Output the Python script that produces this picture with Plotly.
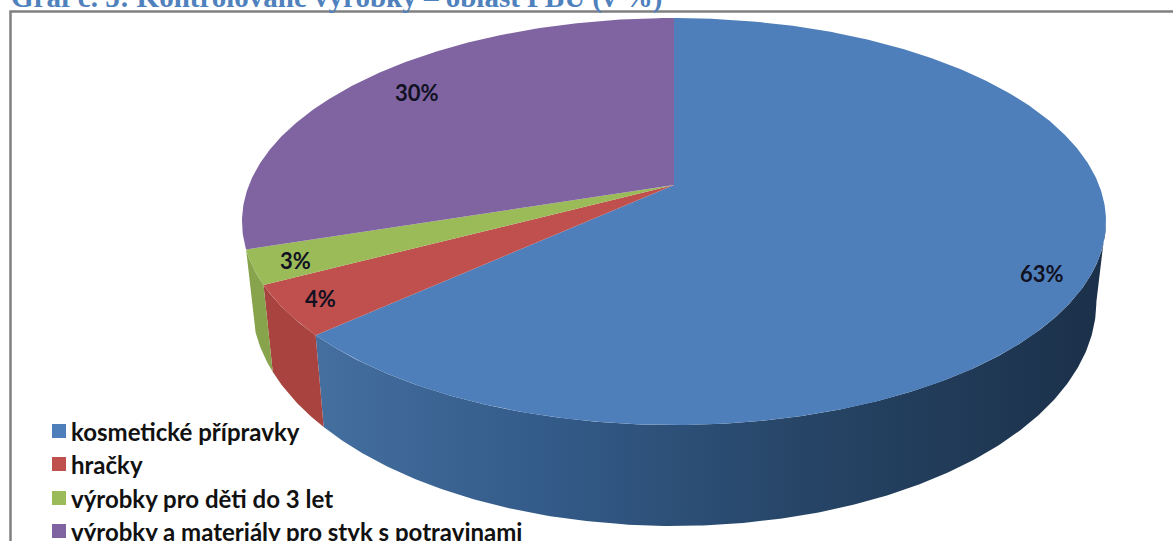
import numpy as np
import plotly.graph_objects as go

categories = ["kosmetické přípravky", "hračky", "výrobky pro děti do 3 let",
              "výrobky a materiály pro styk s potravinami"]
values = [63.3, 4.0, 2.7, 30.0]
top_colors = ["#4f7fba", "#c0504d", "#9bbb59", "#8064a2"]
side_colors = ["#3f6b9b", "#a8433f", "#87a34c", "#6c5489"]
title_text = "Graf č. 5: Kontrolované výrobky – oblast PBU (v %)"
value_labels = [f"{v:.0f}%" for v in values]

# Perspective projection of the pie disc (axes are in page pixels)
CX = 674
C = 0.1794
TOP = dict(A=425.0, a=-163.77, b=185.0)
BOT = dict(A=415.5, a=-169.8, b=261.8)


def project(theta_deg, plane, r=1.0):
    t = np.radians(theta_deg)
    X, Y = r * np.sin(t), r * np.cos(t)
    d = 1 + C * Y
    return CX + plane["A"] * X / d, (plane["a"] * Y + plane["b"]) / d


def arc(t0, t1, plane):
    n = max(int(abs(t1 - t0) * 2), 2)
    return project(np.linspace(t0, t1, n), plane)


cum = np.concatenate([[0], np.cumsum(values)]) * 360 / sum(values)
right_extreme = np.degrees(np.arccos(-C))

fig = go.Figure()

# side walls
for i in range(3):
    t0 = cum[i] if i else right_extreme
    t1 = cum[i + 1]
    ux, uy = arc(t0, t1, TOP)
    lx, ly = arc(t1, t0, BOT)
    trace = dict(x=np.r_[ux, lx], y=np.r_[uy, ly], mode="lines", line=dict(width=0),
                 fill="toself", hoverinfo="skip", showlegend=False)
    if i == 0:
        trace["fillgradient"] = dict(
            type="horizontal",
            colorscale=[[0, "#446f9f"], [0.3, "#335a88"], [0.6, "#274668"], [1, "#1b3049"]],
        )
    else:
        trace["fillcolor"] = side_colors[i]
    fig.add_trace(go.Scatter(**trace))

# top faces
for i, cat in enumerate(categories):
    ax, ay = arc(cum[i], cum[i + 1], TOP)
    px, py = project(0, TOP, 0.0)
    fig.add_trace(go.Scatter(x=np.r_[px, ax, px], y=np.r_[py, ay, py], mode="lines",
                             line=dict(width=0), fill="toself", fillcolor=top_colors[i],
                             name=cat, hovertemplate=cat + ": " + value_labels[i] + "<extra></extra>",
                             showlegend=False))

# legend swatches
legend_y = [431, 464, 498, 531]
fig.add_trace(go.Scatter(x=[59] * 4, y=legend_y, mode="markers", hoverinfo="skip", showlegend=False,
                         marker=dict(symbol="square", size=14, color=top_colors, line=dict(width=0))))
annotations = []
for cat, y in zip(categories, legend_y):
    annotations.append(dict(x=69, y=y, text=cat, showarrow=False, xanchor="left", yanchor="middle",
                            font=dict(family="Lato", size=24, color="#111111", weight="bold")))

# value labels
label_pos = [(1042, 273), (320, 298), (295, 260), (417, 92)]
for lab, (x, y) in zip(value_labels, label_pos):
    annotations.append(dict(x=x, y=y, text=lab, showarrow=False,
                            font=dict(family="Lato", size=22, color="#111122", weight="bold")))

# title, cut by the top of the page as in the source
annotations.append(dict(x=9, y=3, yshift=6, text=title_text, showarrow=False, xanchor="left", yanchor="middle",
                        font=dict(family="Liberation Serif", size=29, color="#4f81bd", weight="bold")))

fig.update_layout(
    width=1173, height=541, margin=dict(l=0, r=0, t=0, b=0),
    paper_bgcolor="white", plot_bgcolor="white", showlegend=False,
    xaxis=dict(range=[0, 1173], visible=False, fixedrange=True),
    yaxis=dict(range=[541, 0], visible=False, fixedrange=True),
    annotations=annotations,
    shapes=[dict(type="rect", xref="x", yref="y", x0=10.5, y0=11.5, x1=1185, y1=560,
                 line=dict(color="#808080", width=2.5), layer="below")],
)
fig.write_html("out.html", config=dict(displayModeBar=False),
               post_script="document.body.style.margin='0';document.body.style.overflow='hidden';")
